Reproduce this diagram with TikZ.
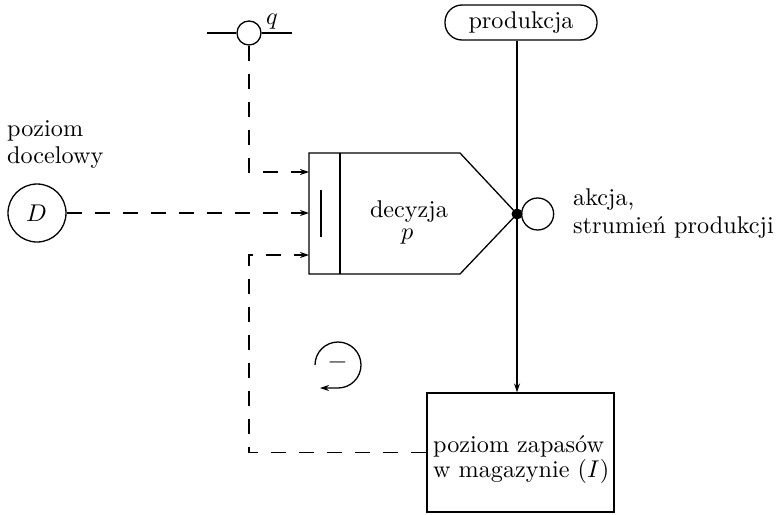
\documentclass[tikz,border=0pt]{standalone}
\usepackage{unicode-math}
\setmainfont{lmroman10-regular.otf}[ItalicFont=lmroman10-italic.otf]
\usetikzlibrary{arrows.meta}
\begin{document}
\begin{tikzpicture}[x=1pt,y=-1pt,
  every node/.style={font=\fontsize{24.2}{27}\selectfont, inner sep=0pt},
  ln/.style={line width=1.3pt},
  dsh/.style={ln, dash pattern=on 15pt off 13pt},
  arr/.style={-{Stealth[length=9pt,width=6pt]}},
  blob/.style={circle, draw, ln},
  txt/.style={anchor=base west}]
\useasboundingbox (0,0) rectangle (778,514);

% q junction
\node[blob, minimum size=24pt] (qc) at (249,33) {};
\coordinate (qL) at (207,33);
\coordinate (qR) at (292,33);
\draw[ln] (qL) -- (qc.west);
\draw[ln] (qc.east) -- (qR);
\node[anchor=base] (qlab) at (272,24) {$q$};

% production source
\node[draw, ln, rounded corners=17pt, minimum width=152pt, minimum height=35pt] (prod) at (521,22.5) {produkcja};

% target level
\node[blob, minimum size=58pt] (D) at (37,213) {$D$};
\node[txt] (pz1) at (7,136) {poziom};
\node[txt] (pz2) at (7,163) {docelowy};

% decision box
\coordinate (b1) at (309,153);
\coordinate (b2) at (460,153);
\coordinate (tip) at (517,214);
\coordinate (b3) at (460,274);
\coordinate (b4) at (309,274);
\coordinate (dv1) at (340,153);
\coordinate (dv2) at (340,274);
\coordinate (bar1) at (321,190);
\coordinate (bar2) at (321,237);
\draw[ln] (b1) -- (b2) -- (tip) -- (b3) -- (b4) -- cycle;
\draw[ln] (dv1) -- (dv2);
\draw[ln] (bar1) -- (bar2);
\node[anchor=base] (dec1) at (409,217) {decyzja};
\node[anchor=base] (dec2) at (408,239) {$p$};

\coordinate (in1) at (309,172);
\coordinate (in2) at (309,213);
\coordinate (in3) at (309,255);
\coordinate (c1) at (249,172);
\coordinate (c3) at (249,255);

% action valve
\node[circle, fill, minimum size=11pt] (dot) at (517,214) {};
\node[blob, minimum size=32pt, anchor=west] (act) at (521,214) {};
\node[txt] (ak1) at (573,205) {akcja,};
\node[txt] (ak2) at (573,233) {strumień produkcji};

% inventory level
\node[draw, ln, minimum width=187pt, minimum height=119pt] (inv) at (520.5,452.5) {};
\node[txt] (inv1) at (433,452) {poziom zapasów};
\node[txt] (inv2) at (433,477) {w magazynie ($I$)};
\coordinate (c4) at (249,452.5);

% negative loop sign
\node (minus) at (338,365) {$-$};
\coordinate (lp0) at (315,365);
\coordinate (lp1) at (320,388);
\draw[ln, arr] (lp0) arc[start angle=180, end angle=450, radius=23] -- (lp1);

% connectors
\draw[dsh, arr] (qc.south) -- (c1) -- (in1);
\draw[dsh, arr] (D.east) -- (in2);
\draw[dsh, arr] (inv.west) -- (c4) -- (c3) -- (in3);
\draw[ln, arr] (dot |- prod.south) -- (dot |- inv.north);
\end{tikzpicture}
\end{document}
